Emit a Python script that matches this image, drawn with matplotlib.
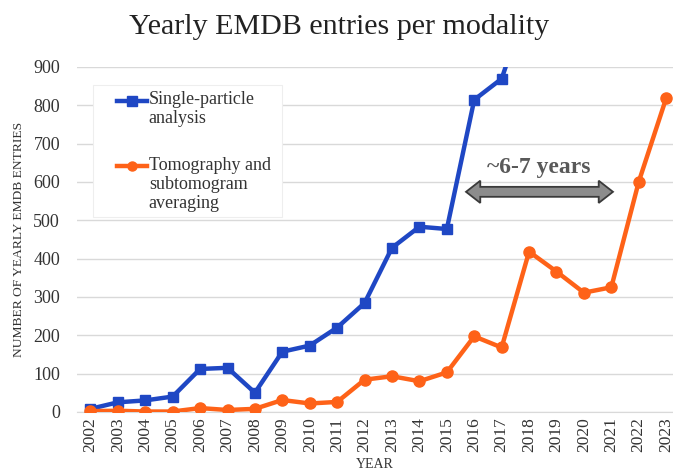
import matplotlib
matplotlib.use("Agg")
import matplotlib.pyplot as plt
from matplotlib.patches import Polygon, Rectangle
from matplotlib.lines import Line2D

years = list(range(2002, 2024))
spa_years = list(range(2002, 2019))
spa_values = [8, 25, 30, 40, 112, 115, 50, 157, 173, 220, 284, 428, 483, 477, 814, 869, 1080]
tomo_values = [2, 3, 1, 1, 10, 5, 8, 31, 22, 26, 84, 93, 80, 103, 197, 168, 418, 366, 311, 325, 600, 818]
yticks = [0, 100, 200, 300, 400, 500, 600, 700, 800, 900]
spa_label = 'Single-particle\nanalysis'
tomo_label = 'Tomography and\nsubtomogram\naveraging'

plt.rcParams['font.family'] = ['Liberation Serif', 'DejaVu Serif']

fig = plt.figure(figsize=(6.73, 4.74), dpi=100)
ax = fig.add_axes([0.114, 0.131, 0.886, 0.728])

blue = '#1f47c4'
orange = '#fe6218'

ax.plot(spa_years, spa_values, color=blue, lw=3.2, marker='s', ms=7.5, zorder=3)
ax.plot(years, tomo_values, color=orange, lw=3.2, marker='o', ms=8, zorder=3)

ax.set_xlim(2001.5, 2023.25)
ax.set_ylim(0, 900)
ax.set_yticks(yticks)
ax.set_xticks(years)
ax.set_xticklabels([str(y) for y in years], rotation=90, fontsize=12.5, color='#333333')
ax.tick_params(axis='y', labelsize=13, colors='#333333', length=0, pad=12)
ax.tick_params(axis='x', length=0, pad=4)
ax.grid(axis='y', color='#d9d9d9', lw=1)
ax.set_axisbelow(True)
for s in ['top', 'right', 'left']:
    ax.spines[s].set_visible(False)
ax.spines['bottom'].set_color('#d9d9d9')

ax.set_ylabel('NUMBER OF YEARLY EMDB ENTRIES', fontsize=9.7, color='#333333', labelpad=6)
ax.set_xlabel('YEAR', fontsize=10, color='#333333', labelpad=4)

fig.text(0.504, 0.942, 'Yearly EMDB entries per modality', ha='center', va='center',
         fontsize=21.6, color='#222222')

# legend (manual, so handles align with the first line of each label)
ax.add_patch(Rectangle((0.027, 0.565), 0.317, 0.383, transform=ax.transAxes,
                       facecolor='white', edgecolor='#eeeeee', lw=0.8, zorder=4))
for yy, col, mk, lab in [(0.902, blue, 's', spa_label), (0.712, orange, 'o', tomo_label)]:
    ax.add_line(Line2D([0.067, 0.118], [yy, yy], transform=ax.transAxes, color=col,
                       lw=3.2, zorder=5))
    ax.add_line(Line2D([0.0925], [yy], transform=ax.transAxes, color=col, marker=mk,
                       ms=6.5, zorder=5))
    ax.text(0.121, yy + 0.027, lab, transform=ax.transAxes, ha='left', va='top',
            fontsize=13, color='#333333', linespacing=1.15, zorder=5)

# double-headed arrow
x0, x1, yc = 2015.7, 2021.06, 574
hw, bw, hl = 29, 13, 0.52
arrow_pts = [(x0, yc), (x0 + hl, yc + hw), (x0 + hl, yc + bw), (x1 - hl, yc + bw),
             (x1 - hl, yc + hw), (x1, yc), (x1 - hl, yc - hw), (x1 - hl, yc - bw),
             (x0 + hl, yc - bw), (x0 + hl, yc - hw)]
ax.add_patch(Polygon(arrow_pts, closed=True, facecolor='#8c8c8c', edgecolor='#3a3a3a',
                     lw=1.3, zorder=4))
ax.text(2018.35, 638, '~6-7 years', ha='center', va='center', fontsize=17,
        fontweight='bold', color='#595959')

fig.savefig('out.png', dpi=100)
